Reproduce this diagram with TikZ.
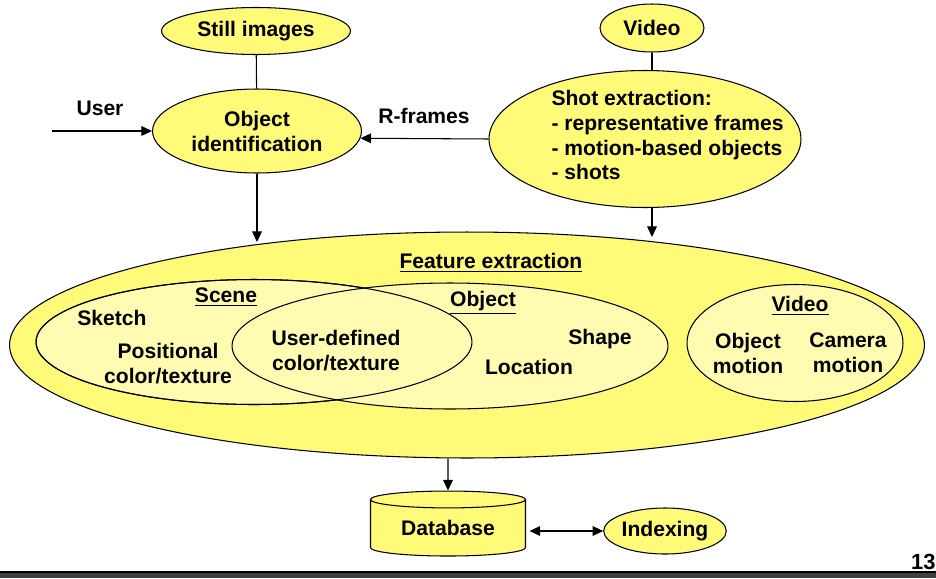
\documentclass[tikz,border=0pt]{standalone}
\usepackage{fontspec}
\setmainfont{Liberation Sans}
\usetikzlibrary{shapes.geometric,arrows.meta}
\definecolor{outer}{RGB}{255,250,120}
\definecolor{inner}{RGB}{255,252,178}
\tikzset{
  blob/.style={ellipse,draw,fill=outer,inner sep=0pt,align=center},
  part/.style={ellipse,draw,fill=inner,inner sep=0pt},
  arr/.style={-{Triangle[length=6pt,width=5.5pt]}},
  dbl/.style={{Triangle[length=6pt,width=5.5pt]}-{Triangle[length=6pt,width=5.5pt]}},
}

\begin{document}
\begin{tikzpicture}[x=0.02cm,y=-0.02cm,line width=0.6pt,
    font=\bfseries\fontsize{12}{14.2}\selectfont]
  \useasboundingbox (0,0) rectangle (936,578);
  \node[blob,minimum width=3.78cm,minimum height=0.94cm] (still) at (256,31) {Still images};
  \node[blob,minimum width=4.18cm,minimum height=1.68cm] (objid) at (257,131) {Object\\identification};
  \node[blob,minimum width=2.08cm,minimum height=0.96cm] (video) at (652,28) {Video};
  \node[blob,minimum width=6.24cm,minimum height=2.74cm] (shot) at (645,139) {};
  \node[align=left,anchor=west,inner sep=0pt] (shottxt) at (551,135)
    {Shot extraction:\\- representative frames\\- motion-based objects\\- shots};
  \node (userlbl) at (100,108) {User};
  \node (rlbl) at (424,116) {R-frames};
  \coordinate (userin) at (52,131);
  \coordinate (objin) at (257,242);
  \coordinate (shotin) at (652,237);
  \draw (still) -- (objid);
  \draw (video) -- (video |- shot.north);
  \draw[arr] (userin) -- (objid.west);
  \draw[arr] (shot.west) -- (objid.-4.5);
  \draw[arr] (objid) -- (objin);
  \draw[arr] (shot.south -| shotin) -- (shotin);

  \node[blob,minimum width=18.3cm,minimum height=4.52cm] (feat) at (467,345) {};
  \node (featlbl) at (491,263) {\underline{Feature extraction}};
  \node[part,minimum width=8.72cm,minimum height=2.5cm] (scene) at (254,342) {};
  \node[part,minimum width=8.72cm,minimum height=2.52cm] (object) at (450,346) {};
  \draw (scene.center) ellipse [x radius=4.36cm,y radius=1.25cm];
  \node[part,minimum width=4.32cm,minimum height=2.34cm] (vid) at (795,343) {};
  \foreach \n/\x/\y/\t in {scenelbl/226/297/\underline{Scene}, sketch/112/318/Sketch,
      objlbl/483/303/\underline{Object}, shape/600/339/Shape, location/529/367/Location,
      vidlbl/800/306/\underline{Video}}{
    \node (\n) at (\x,\y) {\t};
  }
  \node[align=center] (poscol) at (168,364) {Positional\\color/texture};
  \node[align=center] (usercol) at (336,351) {User-defined\\color/texture};
  \node[align=center] (objmot) at (748,353) {Object\\motion};
  \node[align=center] (cammot) at (848,353) {Camera\\motion};

  \node[cylinder,shape border rotate=90,draw,fill=outer,aspect=0.18,inner sep=0pt,
    minimum width=3.1cm,minimum height=1.3cm] (db) at (448,528) {Database};
  \node[blob,minimum width=2.42cm,minimum height=0.92cm] (idx) at (665,531) {Indexing};
  \draw[arr] (db |- feat.south) -- (db.north);
  \draw[dbl,shorten <=2pt] (db.east |- idx) -- (idx);

  \node[anchor=south east,inner sep=0pt,font=\bfseries\fontsize{12.5}{14}\selectfont] (page) at (936,570) {13};
  \fill[black!75] (0,572) rectangle (936,578);
  \draw (0,572) -- (936,572);
\end{tikzpicture}
\end{document}
